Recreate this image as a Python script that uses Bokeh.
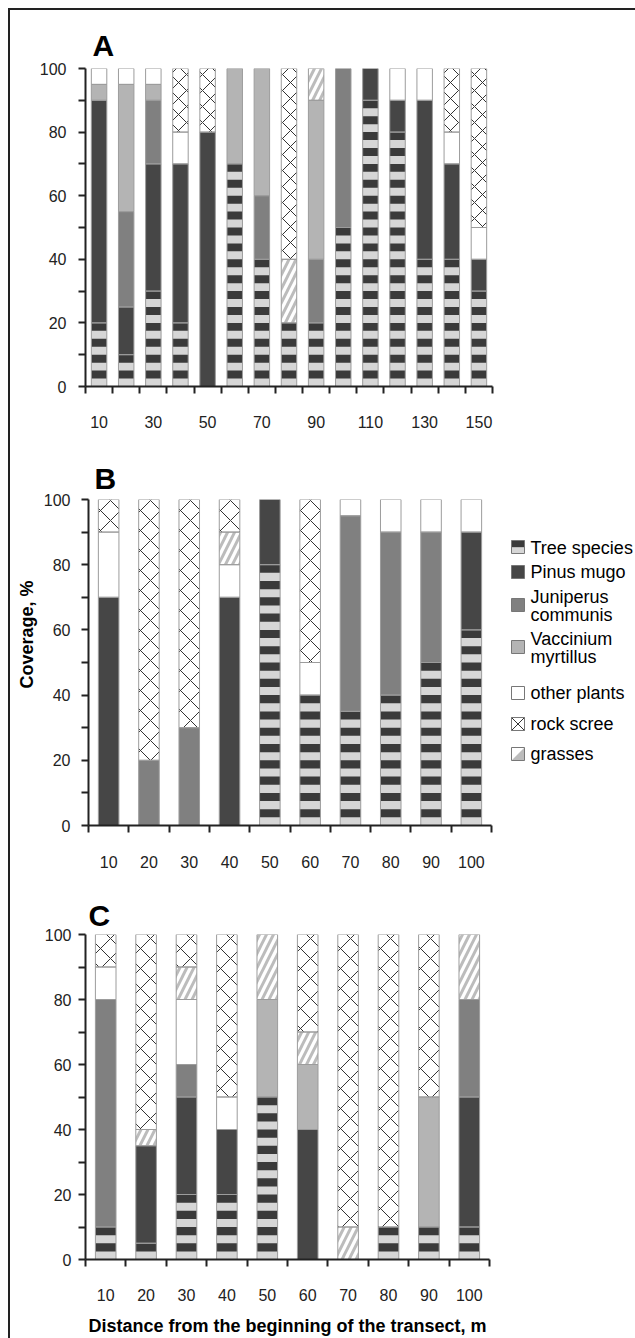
import math
from bokeh.plotting import figure
from bokeh.layouts import column, row
from bokeh.models import Range1d, FixedTicker, Title
from bokeh.core.properties import value
from bokeh.embed import file_html
from bokeh.resources import INLINE

# ---------------- data ----------------
A_dist = [10, 20, 30, 40, 50, 60, 70, 80, 90, 100, 110, 120, 130, 140, 150]
A_tree = [20, 10, 30, 20, 0, 70, 40, 20, 20, 50, 90, 80, 40, 40, 30]
A_pinus = [70, 15, 40, 50, 80, 0, 0, 0, 0, 0, 10, 10, 50, 30, 10]
A_juniperus = [0, 30, 20, 0, 0, 0, 20, 0, 20, 50, 0, 0, 0, 0, 0]
A_vaccinium = [5, 40, 5, 0, 0, 30, 40, 0, 50, 0, 0, 0, 0, 0, 0]
A_other = [5, 5, 5, 10, 0, 0, 0, 0, 0, 0, 0, 10, 10, 10, 10]
A_grasses = [0, 0, 0, 0, 0, 0, 0, 20, 10, 0, 0, 0, 0, 0, 0]
A_rock = [0, 0, 0, 20, 20, 0, 0, 60, 0, 0, 0, 0, 0, 20, 50]
A_labels = [10, 30, 50, 70, 90, 110, 130, 150]

B_dist = [10, 20, 30, 40, 50, 60, 70, 80, 90, 100]
B_tree = [0, 0, 0, 0, 80, 40, 35, 40, 50, 60]
B_pinus = [70, 0, 0, 70, 20, 0, 0, 0, 0, 30]
B_juniperus = [0, 20, 30, 0, 0, 0, 60, 50, 40, 0]
B_vaccinium = [0, 0, 0, 0, 0, 0, 0, 0, 0, 0]
B_other = [20, 0, 0, 10, 0, 10, 5, 10, 10, 10]
B_grasses = [0, 0, 0, 10, 0, 0, 0, 0, 0, 0]
B_rock = [10, 80, 70, 10, 0, 50, 0, 0, 0, 0]

C_dist = [10, 20, 30, 40, 50, 60, 70, 80, 90, 100]
C_tree = [10, 5, 20, 20, 50, 0, 0, 10, 10, 10]
C_pinus = [0, 30, 30, 20, 0, 40, 0, 0, 0, 40]
C_juniperus = [70, 0, 10, 0, 0, 0, 0, 0, 0, 30]
C_vaccinium = [0, 0, 0, 0, 30, 20, 0, 0, 40, 0]
C_other = [10, 0, 20, 10, 0, 0, 0, 0, 0, 0]
C_grasses = [0, 5, 10, 0, 20, 10, 10, 0, 0, 20]
C_rock = [10, 60, 10, 50, 0, 30, 90, 90, 50, 0]

y_ticks = [0, 20, 40, 60, 80, 100]
y_minor = [10, 30, 50, 70, 90]

legend_names = ["Tree species", "Pinus mugo", "Juniperus\ncommunis",
                "Vaccinium\nmyrtillus", "other plants", "rock scree", "grasses"]

# ---------------- styles ----------------
FONT = "Liberation Sans"
INK = "#222222"
C_TREE_L = "#d6d6d6"
C_TREE_D = "#3a3a3a"
C_PINUS = "#464646"
C_JUNI = "#808080"
C_VACC = "#b4b4b4"
C_EDGE = "#9c9c9c"
C_GRASS = "#bcbcbc"
C_ROCK = "#333333"


def draw_stack(p, dist, tree, pinus, juni, vacc, other, grasses, rock, w, rock_scale, grass_scale):
    n = len(dist)
    base = [0.0] * n
    segs = {}
    for name, vals in [("tree", tree), ("pinus", pinus), ("juni", juni), ("vacc", vacc),
                       ("other", other), ("grasses", grasses), ("rock", rock)]:
        xs, b, t = [], [], []
        for i in range(n):
            if vals[i] > 0:
                xs.append(dist[i]); b.append(base[i]); t.append(base[i] + vals[i])
            base[i] += vals[i]
        segs[name] = (xs, b, t)

    def bars(name, **kw):
        xs, b, t = segs[name]
        if xs:
            p.vbar(x=xs, bottom=b, top=t, width=w, **kw)

    bars("tree", fill_color=C_TREE_L, line_color=None)
    xs, b, t = segs["tree"]
    sx, sb, st = [], [], []
    for x, lo, hi in zip(xs, b, t):
        k = 0
        while lo + 5 * k + 2.5 < hi:
            sx.append(x); sb.append(lo + 5 * k + 2.5); st.append(min(lo + 5 * k + 5, hi))
            k += 1
    if sx:
        p.vbar(x=sx, bottom=sb, top=st, width=w, fill_color=C_TREE_D, line_color=None)
    bars("pinus", fill_color=C_PINUS, line_color=None)
    bars("juni", fill_color=C_JUNI, line_color=None)
    bars("vacc", fill_color=C_VACC, line_color=None)
    bars("other", fill_color="white", line_color=None)
    bars("grasses", fill_color="white", line_color=None, hatch_pattern="/",
         hatch_color=C_GRASS, hatch_weight=3, hatch_scale=grass_scale)
    bars("rock", fill_color="white", line_color=None, hatch_pattern="x",
         hatch_color=C_ROCK, hatch_weight=1, hatch_scale=rock_scale)
    for name in segs:
        bars(name, fill_color=None, line_color=C_EDGE, line_width=1)


def make_panel(letter, dist, x_lab, data, w, frame_w, frame_h, mb, letter_off,
               letter_stand, rock_scale, y_stand, x_stand):
    step = dist[1] - dist[0]
    lo = dist[0] - step / 2
    hi = dist[-1] + step / 2
    p = figure(frame_width=frame_w, frame_height=frame_h,
               min_border_left=mb[0], min_border_top=mb[1], min_border_right=mb[2],
               min_border_bottom=mb[3],
               x_range=Range1d(lo, hi), y_range=Range1d(0, 100),
               output_backend="svg", toolbar_location=None, tools="")
    p.outline_line_color = None
    p.grid.visible = False
    p.background_fill_color = "white"
    p.border_fill_color = "white"
    draw_stack(p, dist, *data, w=w, rock_scale=rock_scale, grass_scale=14)

    p.title.text = letter
    p.title.align = "left"
    p.title.offset = letter_off
    p.title.standoff = letter_stand
    p.title.text_font = FONT
    p.title.text_font_size = "30px"
    p.title.text_font_style = "bold"
    p.title.text_color = "black"

    xa = p.xaxis[0]
    bounds = [lo + step * k for k in range(len(dist) + 1)]
    xa.ticker = FixedTicker(ticks=x_lab, minor_ticks=bounds)
    xa.major_tick_line_color = None
    xa.major_tick_out = 7
    xa.major_tick_in = 0
    xa.minor_tick_out = 7
    xa.minor_tick_in = 0
    xa.minor_tick_line_color = INK
    xa.minor_tick_line_width = 2
    xa.axis_line_color = INK
    xa.axis_line_width = 2
    xa.major_label_standoff = x_stand
    xa.major_label_text_font = FONT
    xa.major_label_text_font_size = "16px"
    xa.major_label_text_color = INK

    ya = p.yaxis[0]
    ya.ticker = FixedTicker(ticks=y_ticks, minor_ticks=y_minor)
    ya.major_tick_out = 7
    ya.major_tick_in = 0
    ya.minor_tick_out = 7
    ya.minor_tick_in = 0
    ya.major_tick_line_color = INK
    ya.minor_tick_line_color = INK
    ya.major_tick_line_width = 2
    ya.minor_tick_line_width = 2
    ya.axis_line_color = INK
    ya.axis_line_width = 2
    ya.major_label_standoff = y_stand
    ya.major_label_text_font = FONT
    ya.major_label_text_font_size = "16px"
    ya.major_label_text_color = INK
    return p


pA = make_panel("A", A_dist, A_labels,
                (A_tree, A_pinus, A_juniperus, A_vaccinium, A_other, A_grasses, A_rock),
                w=5.7, frame_w=407, frame_h=318, mb=(71, 58, 10, 54),
                letter_off=7, letter_stand=14, rock_scale=16, y_stand=12, x_stand=22)

B_MB = (76, 59, 6, 53)
B_FH = 326
pB = make_panel("B", B_dist, B_dist,
                (B_tree, B_pinus, B_juniperus, B_vaccinium, B_other, B_grasses, B_rock),
                w=5.1, frame_w=403, frame_h=B_FH, mb=B_MB,
                letter_off=6, letter_stand=10, rock_scale=20, y_stand=11, x_stand=23)
pB.add_layout(Title(text="Coverage, %", align="right", offset=81, standoff=8,
                    text_font=FONT, text_font_size="18px", text_font_style="bold",
                    text_color="black"), "left")

pC = make_panel("C", C_dist, C_dist,
                (C_tree, C_pinus, C_juniperus, C_vaccinium, C_other, C_grasses, C_rock),
                w=5.1, frame_w=404, frame_h=325, mb=(75, 56, 6, 77),
                letter_off=3, letter_stand=6, rock_scale=20, y_stand=7, x_stand=22)
pC.xaxis[0].axis_label = "Distance from the beginning of the transect, m"
pC.xaxis[0].axis_label_text_font = FONT
pC.xaxis[0].axis_label_text_font_size = "18px"
pC.xaxis[0].axis_label_text_font_style = "bold"
pC.xaxis[0].axis_label_text_color = "black"
pC.xaxis[0].axis_label_standoff = 12

# ---------------- legend (small figure, frame aligned with panel B) ----------------
pL = figure(frame_width=140, frame_height=B_FH, min_border_left=0, min_border_right=0,
            min_border_top=B_MB[1], min_border_bottom=B_MB[3],
            x_range=Range1d(0, 140), y_range=Range1d(B_FH, 0),
            x_axis_location=None, y_axis_location=None,
            output_backend="svg", toolbar_location=None, tools="")
pL.outline_line_color = None
pL.grid.visible = False
pL.background_fill_color = "white"
pL.border_fill_color = "white"

bx0, bx1 = 14, 27
tops = [41, 66, 99, 141, 187, 218, 248]
pL.quad(left=[bx0], right=[bx1], top=[tops[0]], bottom=[tops[0] + 7], fill_color=C_TREE_D, line_color=None)
pL.quad(left=[bx0], right=[bx1], top=[tops[0] + 7], bottom=[tops[0] + 13], fill_color=C_TREE_L, line_color=None)
pL.quad(left=[bx0], right=[bx1], top=[tops[1]], bottom=[tops[1] + 13], fill_color=C_PINUS, line_color=None)
pL.quad(left=[bx0], right=[bx1], top=[tops[2]], bottom=[tops[2] + 13], fill_color=C_JUNI, line_color=None)
pL.quad(left=[bx0], right=[bx1], top=[tops[3]], bottom=[tops[3] + 13], fill_color=C_VACC, line_color=None)
pL.quad(left=[bx0], right=[bx1], top=[tops[4]], bottom=[tops[4] + 13], fill_color="white", line_color=None)
pL.quad(left=[bx0], right=[bx1], top=[tops[5]], bottom=[tops[5] + 13], fill_color="white", line_color=None)
pL.patch(x=[bx0, bx1, bx1], y=[tops[6] + 13, tops[6] + 13, tops[6]], fill_color=C_GRASS, line_color=None)
pL.segment(x0=[bx0, bx0], y0=[tops[5], tops[5] + 13], x1=[bx1, bx1], y1=[tops[5] + 13, tops[5]],
           line_color=C_ROCK, line_width=1)
pL.quad(left=[bx0] * 7, right=[bx1] * 7, top=tops, bottom=[t + 13 for t in tops],
        fill_color=None, line_color="#777777", line_width=1)

tx = 33
j1, j2 = legend_names[2].split("\n")
v1, v2 = legend_names[3].split("\n")
text_rows = [(legend_names[0], 48), (legend_names[1], 72),
             (j1, 97), (j2, 115), (v1, 139), (v2, 157),
             (legend_names[4], 193), (legend_names[5], 224), (legend_names[6], 254)]
pL.text(x=[tx] * len(text_rows), y=[r[1] for r in text_rows], text=[r[0] for r in text_rows],
        text_font=value(FONT), text_font_size="18px", text_baseline="middle",
        text_align="left", text_color="black")

layout = column(pA, row(pB, pL), pC,
                styles={"margin-left": "8px", "margin-top": "8px",
                        "border-left": "2px solid #222", "border-top": "2px solid #222"})

open("out.html", "w").write(file_html(layout, INLINE))
